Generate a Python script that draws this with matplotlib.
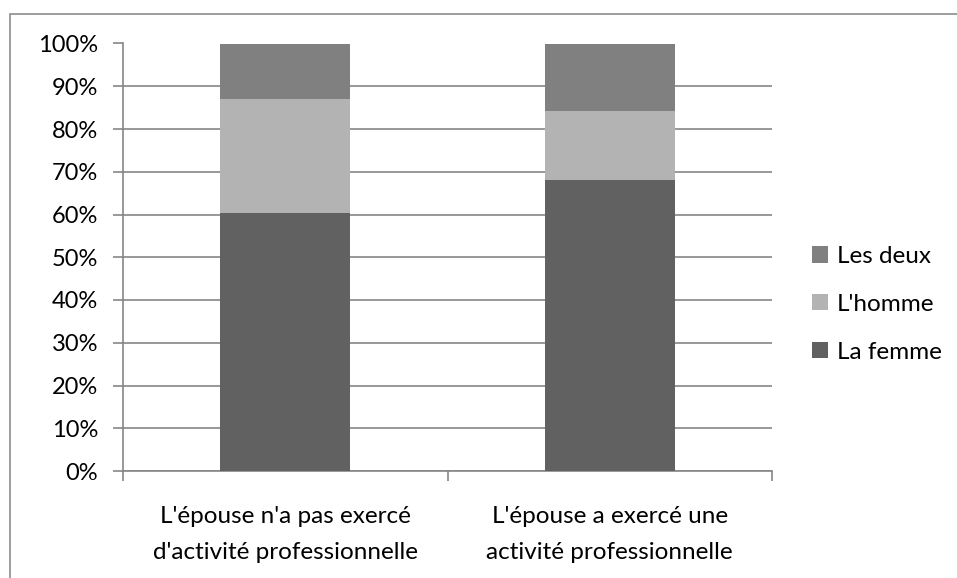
import matplotlib.pyplot as plt
from matplotlib.patches import Rectangle
import numpy as np

plt.rcParams['font.family'] = ['Lato', 'DejaVu Sans']

# Data (percent)
categories = ["L'épouse n'a pas exercé\nd'activité professionnelle",
              "L'épouse a exercé une\nactivité professionnelle"]
la_femme = [60.3, 68.1]
l_homme = [26.7, 16.1]
les_deux = [13.0, 15.8]
yticks = [0, 10, 20, 30, 40, 50, 60, 70, 80, 90, 100]

grid_col = '#868686'

fig = plt.figure(figsize=(9.57, 5.78), dpi=100)
ax = fig.add_axes([123 / 957, 1 - 471 / 578, (772 - 123) / 957, (471 - 43.5) / 578])

x = np.arange(len(categories))
w = 0.4
b1 = ax.bar(x, la_femme, w, color='#616161', label='La femme', zorder=3)
b2 = ax.bar(x, l_homme, w, bottom=la_femme, color='#b3b3b3', label="L'homme", zorder=3)
bottom2 = [a + b for a, b in zip(la_femme, l_homme)]
b3 = ax.bar(x, les_deux, w, bottom=bottom2, color='#808080', label='Les deux', zorder=3)

ax.set_xlim(-0.5, 1.5)
ax.set_ylim(0, 100)
ax.set_yticks(yticks)
ax.set_yticklabels([f'{v}%' for v in yticks])
ax.yaxis.grid(True, color=grid_col, linewidth=1.2, zorder=0)
ax.set_axisbelow(True)

# category labels: one text per line, placed below the axis
ax.set_xticks([-0.5, 0.5, 1.5])
ax.set_xticklabels([])
ax.tick_params(axis='x', length=7, color=grid_col, width=1.2)
line_y = [-0.1216, -0.2058]
for xi, lab in zip(x, categories):
    for ly, part in zip(line_y, lab.split('\n')):
        ax.text(xi, ly, part, transform=ax.get_xaxis_transform(), ha='center',
                va='baseline', fontsize=17.5)
ax.tick_params(axis='y', length=7, color=grid_col, width=1.2, pad=11, labelsize=17)

for s in ['top', 'right']:
    ax.spines[s].set_visible(False)
for s in ['left', 'bottom']:
    ax.spines[s].set_color(grid_col)
    ax.spines[s].set_linewidth(1.2)

ax.legend(handles=[b3, b2, b1], loc='center left', bbox_to_anchor=(1.062, 0.39),
          frameon=False, fontsize=17.5, handlelength=0.65, handleheight=0.65,
          labelspacing=1.1, handletextpad=0.35, borderpad=0, borderaxespad=0)

# chart area border
fig.patches.append(Rectangle((9.5 / 957, -0.1), 1.1, 1.1 - 14 / 578,
                             transform=fig.transFigure, fill=False,
                             edgecolor='#8c8c8c', linewidth=1.2))

fig.savefig('out.png', dpi=100)
